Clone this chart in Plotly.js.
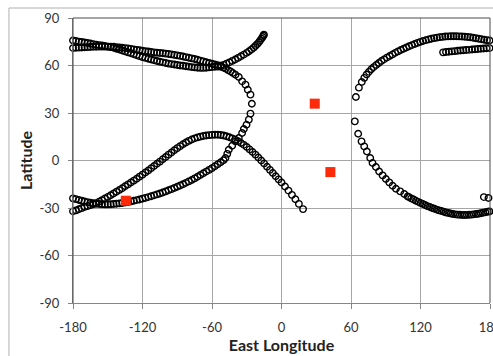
<!DOCTYPE html>
<html>
<head>
<meta charset="utf-8">
<script src="https://cdn.plot.ly/plotly-3.0.1.min.js"></script>
<style>
html,body{margin:0;padding:0;background:#fff;}
#chart{width:493px;height:356px;}
</style>
</head>
<body>
<div id="chart"></div>
<script>
// Track A: from (-180,71) eastward, rising to ~80 near -15
const trackALon = [-180,-177.5,-175,-172.5,-170,-167.5,-165,-162.5,-160,-157.5,-155,-152.5,-150,-147.5,-145,-142.5,-140,-137.5,-135,-132.5,-130,-127.5,-125,-122.5,-120,-117.5,-115,-112.5,-110,-107.5,-105,-102.5,-100,-97.5,-95,-92.5,-90,-87.5,-85,-82.5,-80,-77.5,-75,-72.5,-70,-67.5,-65,-62.5,-60,-57.5,-55,-52.5,-50,-47.5,-45,-42.5,-40,-37.5,-35,-32.5,-30,-28,-26,-24,-22.5,-21,-19.5,-18.3,-17.2,-16.3,-15.6,-15.2];
const trackALat = [71.0,71.2,71.3,71.4,71.5,71.6,71.7,71.8,71.8,71.9,71.9,71.9,71.9,71.8,71.8,71.6,71.4,71.2,71.0,70.8,70.5,70.2,69.9,69.6,69.3,69.0,68.8,68.5,68.3,68.1,67.9,67.7,67.5,67.3,67.0,66.7,66.4,66.1,65.7,65.3,64.9,64.5,64.1,63.6,63.1,62.6,62.1,61.6,61.1,60.6,60.2,59.9,60.4,61.2,62.0,62.9,63.8,64.8,65.8,66.9,68.0,69.0,70.1,71.3,72.4,73.5,74.7,75.9,77.0,78.0,78.9,79.5];

// Track B: from (-180,-24) along the lower band, up through the crossing, back west at high latitude
const trackBLon = [-180,-177.5,-175,-172.5,-170,-167.5,-165,-162.5,-160,-157.5,-155,-152.5,-150,-147.5,-145,-142.5,-140,-137.5,-135,-132.5,-130,-127.5,-125,-122.5,-120,-117.5,-115,-112.5,-110,-107.5,-105,-102.5,-100,-97.5,-95,-92.5,-90,-87.5,-85,-82.5,-80,-77.5,-75,-72.5,-70,-67.5,-65,-62.5,-60,-57.5,-55,-52.5,-50,
  -48.4,-46.8,-45.5,-42.6,-39.7,-36.9,-34.0,-32.5,-30.2,-28.2,-26.8,-25.6,-26.8,-29.1,-31.1,-34.0,-36.9,-39.7,-42.0,-44.0,-46.0,-48.0,-50.0,
  -52.5,-55,-57.5,-60,-62.5,-65,-67.5,-70,-72.5,-75,-77.5,-80,-82.5,-85,-87.5,-90,-92.5,-95,-97.5,-100,-102.5,-105,-107.5,-110,-112.5,-115,-117.5,-120,-122.5,-125,-127.5,-130,-132.5,-135,-137.5,-140,-142.5,-145,-147.5,-150,-152.5,-155,-157.5,-160,-162.5,-165,-167.5,-170,-172.5,-175,-177.5,-180];
const trackBLat = [-23.9,-24.4,-24.9,-25.4,-25.9,-26.3,-26.7,-27.0,-27.3,-27.5,-27.6,-27.7,-27.7,-27.6,-27.5,-27.3,-27.1,-26.8,-26.5,-26.2,-25.8,-25.4,-25.0,-24.6,-24.1,-23.6,-23.1,-22.6,-22.0,-21.4,-20.8,-20.2,-19.5,-18.8,-18.1,-17.4,-16.6,-15.8,-15.0,-14.1,-13.2,-12.3,-11.3,-10.3,-9.2,-8.1,-7.0,-5.9,-4.8,-3.6,-2.4,-1.1,0.2,
  1.6,4.2,6.8,9.3,12.1,14.2,17.4,19.9,22.6,25.8,29.6,35.8,41.6,44.7,47.9,50.0,52.7,54.2,55.3,56.3,57.1,57.9,58.6,
  59.2,59.3,59.2,59.0,58.8,58.6,58.5,58.5,58.6,58.8,59.0,59.3,59.5,59.8,60.0,60.3,60.6,60.9,61.2,61.6,62.0,62.4,62.8,63.3,63.8,64.3,64.8,65.3,65.9,66.5,67.1,67.7,68.3,68.9,69.5,70.1,70.6,71.2,71.6,71.9,72.3,72.6,72.9,73.2,73.5,73.9,74.2,74.5,74.8,75.1,75.5,75.8];

// Track C: from (-180,-32) rising to ~16 near -57, then descending to (19,-31)
const trackCLon = [-180,-177.5,-175,-172.5,-170,-167.5,-165,-162.5,-160,-157.5,-155,-152.5,-150,-147.5,-145,-142.5,-140,-137.5,-135,-132.5,-130,-127.5,-125,-122.5,-120,-117.5,-115,-112.5,-110,-107.5,-105,-102.5,-100,-97.5,-95,-92.5,-90,-87.5,-85,-82.5,-80,-77.5,-75,-72.5,-70,-67.5,-65,-62.5,-60,-57.5,-55,-52.5,-50,-47.5,-45,-42.5,-40,-37.5,-35,
  -32.5,-30,-27.5,-25,-22.5,-20,-17.5,-15,-12.5,-10,-7.5,-5,-2.5,0,3,6,9,12,15,18.6];
const trackCLat = [-32.1,-31.5,-30.8,-30.1,-29.4,-28.8,-28.2,-27.6,-26.9,-26.0,-25.0,-24.0,-23.0,-21.9,-20.8,-19.7,-18.6,-17.5,-16.3,-15.1,-13.9,-12.7,-11.5,-10.2,-8.9,-7.6,-6.3,-4.9,-3.5,-2.1,-0.7,0.8,2.2,3.7,5.1,6.5,7.8,9.1,10.3,11.4,12.4,13.3,14.0,14.6,15.1,15.5,15.8,16.0,16.2,16.3,16.3,16.1,15.8,15.3,14.7,14.0,13.2,12.2,11.1,
  9.9,8.5,7.0,5.4,3.7,1.9,0.0,-1.9,-3.9,-5.9,-7.9,-9.9,-11.9,-13.9,-16.4,-19.0,-21.7,-24.5,-27.4,-30.7];

// Track D: upper right, from (64,40) to (180,76)
const trackDLon = [64.2,66.8,69.3,71.5,73.5,75.5,77.5,79.6,81.8,84.0,86.3,88.6,91.0,93.4,95.8,98.2,100.6,103.0,105.4,107.8,110.2,112.6,115.0,117.4,119.8,122.2,124.6,127.0,129.4,131.8,134.2,136.6,139.0,141.4,143.8,146.2,148.6,151.0,153.4,155.8,158.2,160.6,163.0,165.4,167.8,170.2,172.6,175.0,177.4,179.6];
const trackDLat = [40.1,46.0,49.6,52.2,54.3,56.0,57.6,59.0,60.3,61.6,62.8,63.9,65.0,66.0,67.0,68.0,68.9,69.8,70.6,71.4,72.2,72.9,73.6,74.3,74.9,75.5,76.0,76.5,76.9,77.3,77.6,77.9,78.1,78.3,78.4,78.5,78.5,78.5,78.4,78.3,78.2,78.0,77.8,77.5,77.2,76.9,76.6,76.3,76.0,75.8];

// Track E: short upper right, from (139,68) to (180,71)
const trackELon = [139.5,142,144.5,147,149.5,152,154.5,157,159.5,162,164.5,167,169.5,172,174.5,177,179.6];
const trackELat = [68.3,68.5,68.7,68.9,69.1,69.3,69.5,69.6,69.8,69.9,70.1,70.3,70.4,70.6,70.7,70.9,71.0];

// Track F: lower right, from (63,25) down to (180,-32)
const trackFLon = [63.3,66.2,69.1,71.4,73.7,76.6,78.6,81.5,84.3,87.3,90.1,93.0,95.9,98.8,102.5,106.0,108.9,110,112,114,116,118,120,122,124,126,128,130,132,134,136,138,140,142,144,146,148,150,152,154,156,158,160,162,164,166,168,170,172,174,176,178,179.6];
const trackFLat = [24.7,16.9,12.1,8.9,5.7,1.6,-1.6,-4.1,-6.9,-9.4,-11.7,-13.8,-15.9,-17.8,-19.5,-21.2,-22.7,-23.1,-23.9,-24.6,-25.4,-26.1,-26.8,-27.5,-28.1,-28.8,-29.4,-30.0,-30.5,-31.0,-31.5,-31.9,-32.4,-32.8,-33.2,-33.5,-33.8,-34.0,-34.2,-34.3,-34.4,-34.4,-34.4,-34.3,-34.2,-34.0,-33.8,-33.6,-33.3,-33.0,-32.7,-32.4,-32.2];

// Track G: two points near the right edge
const trackGLon = [174.7,178.7];
const trackGLat = [-23.1,-23.7];

// Red square points
const siteLon = [28.7,42.2,-134.4];
const siteLat = [35.9,-7.3,-25.4];

const xTicks = [-180,-120,-60,0,60,120,180];
const yTicks = [-90,-60,-30,0,30,60,90];

const circleMarker = {symbol:'circle-open', size:6.5, color:'#000', line:{color:'#000', width:1.4}};
function track(lon, lat){
  return {x:lon, y:lat, type:'scatter', mode:'markers', marker:circleMarker, cliponaxis:false, hoverinfo:'skip'};
}
const traces = [
  track(trackALon, trackALat),
  track(trackBLon, trackBLat),
  track(trackCLon, trackCLat),
  track(trackDLon, trackDLat),
  track(trackELon, trackELat),
  track(trackFLon, trackFLat),
  track(trackGLon, trackGLat),
  {x:siteLon, y:siteLat, type:'scatter', mode:'markers', cliponaxis:false,
   marker:{symbol:'square', size:10, color:'#ff2a0a', line:{width:0}}}
];

const W = 493, H = 356;
const L = 73, R = 3.4, T = 18.3, B = 52.7;
const pw = W - L - R, ph = H - T - B;
const fx = px => (px - L) / pw;
const fy = py => (H - B - py) / ph;

const tickFont = {family:'Lato, "Open Sans", sans-serif', size:13, color:'#333'};
const titleFont = {family:'Lato, "Open Sans", sans-serif', size:16, color:'#222', weight:'bold'};

const layout = {
  width:W, height:H,
  margin:{l:L, r:R, t:T, b:B, pad:0},
  paper_bgcolor:'#fff', plot_bgcolor:'#fff',
  showlegend:false,
  xaxis:{range:[-180,180], tickmode:'array', tickvals:xTicks, ticktext:xTicks.map(String),
    showgrid:true, gridcolor:'#a6a6a6', gridwidth:1, zeroline:false,
    showline:true, linecolor:'#868686', linewidth:1,
    ticks:'outside', ticklen:5, tickcolor:'#868686', tickfont:tickFont, ticklabelstandoff:7,
    ticklabeloverflow:'allow',
    title:{text:'East Longitude', font:titleFont, standoff:6}, fixedrange:true, automargin:false},
  yaxis:{range:[-90,90], tickmode:'array', tickvals:yTicks, ticktext:yTicks.map(String),
    showgrid:true, gridcolor:'#a6a6a6', gridwidth:1, zeroline:false,
    showline:true, linecolor:'#868686', linewidth:1,
    ticks:'outside', ticklen:4, tickcolor:'#868686', tickfont:tickFont, ticklabelstandoff:6,
    title:{text:'Latitude', font:titleFont, standoff:2}, fixedrange:true, automargin:false},
  shapes:[
    {type:'path', xref:'paper', yref:'paper', path:'M0,0 L0,1 L1,1 L1,0', line:{color:'#4a4a4a', width:1}, layer:'above'},
    {type:'line', xref:'paper', yref:'paper', x0:fx(9), x1:fx(9), y0:fy(H+5), y1:fy(8.3), line:{color:'#b0b0b0', width:1}},
    {type:'line', xref:'paper', yref:'paper', x0:fx(9), x1:fx(W+5), y0:fy(8.3), y1:fy(8.3), line:{color:'#b0b0b0', width:1}}
  ]
};

Plotly.newPlot('chart', traces, layout, {staticPlot:true, displayModeBar:false});
</script>
</body>
</html>
